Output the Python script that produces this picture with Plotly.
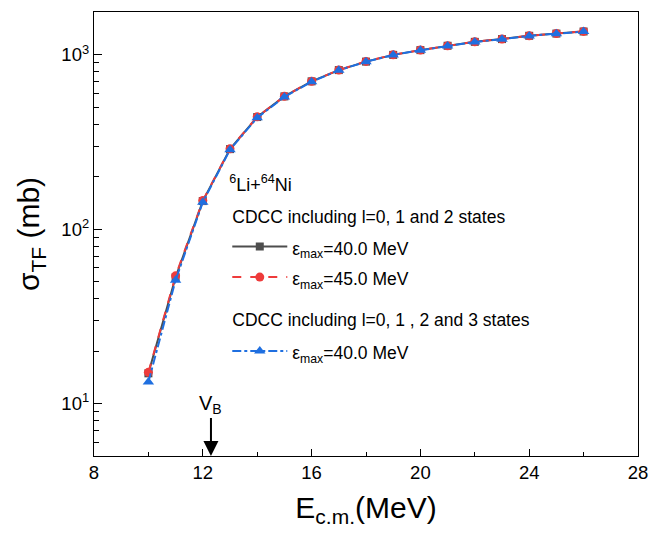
import math
import plotly.graph_objects as go

# ---- data ----
energy = [10, 11, 12, 13, 14, 15, 16, 17, 18, 19, 20, 21, 22, 23, 24, 25, 26]
sigma_l2_e40 = [14.9, 53, 145, 288, 440, 578, 705, 818, 915, 1000, 1065, 1128, 1188, 1232, 1287, 1325, 1362]
sigma_l2_e45 = [15.1, 54, 146, 289, 441, 579, 706, 819, 917, 1002, 1066, 1129, 1189, 1233, 1288, 1327, 1364]
sigma_l3_e40 = [13.3, 51, 143, 286, 436, 574, 702, 816, 914, 999, 1063, 1126, 1186, 1230, 1285, 1323, 1360]
vb_energy = 12.3

x_ticks = [8, 12, 16, 20, 24, 28]
y_ticks = [10, 100, 1000]
y_ticktext = ["10<sup>1</sup>", "10<sup>2</sup>", "10<sup>3</sup>"]
y_minor = [6, 7, 8, 9, 20, 30, 40, 50, 60, 70, 80, 90, 200, 300, 400, 500, 600, 700, 800, 900]

FONT = "Liberation Sans, Arial, sans-serif"
BLACK = "#4d4d4d"
RED = "#ee3b3b"
BLUE = "#1f6fe0"


def sized(t, px=17.5):
    return f'<span style="font-size:{px}px">{t}</span>'


fig = go.Figure()
fig.add_trace(go.Scatter(
    x=energy, y=sigma_l2_e40, mode="lines+markers",
    name=sized("ε<sub>max</sub>=40.0 MeV"),
    legendgroup="g1",
    legendgrouptitle=dict(text=sized("CDCC including l=0, 1 and 2 states"), font=dict(size=25, color="black")),
    line=dict(color=BLACK, width=2), marker=dict(symbol="square", size=8, color=BLACK)))
fig.add_trace(go.Scatter(
    x=energy, y=sigma_l2_e45, mode="lines+markers",
    name=sized("ε<sub>max</sub>=45.0 MeV"),
    legendgroup="g1",
    line=dict(color=RED, width=2, dash="dash"), marker=dict(symbol="circle", size=9, color=RED)))
fig.add_trace(go.Scatter(
    x=energy, y=sigma_l3_e40, mode="lines+markers",
    name=sized("ε<sub>max</sub>=40.0 MeV"),
    legendgroup="g2",
    legendgrouptitle=dict(text=sized("CDCC including l=0, 1 , 2 and 3 states"), font=dict(size=31, color="black")),
    line=dict(color=BLUE, width=2, dash="dashdot"), marker=dict(symbol="triangle-up", size=10, color=BLUE)))

y_lo, y_hi = math.log10(5), 3.246

fig.add_annotation(
    x=vb_energy, y=y_lo, xref="x", yref="y",
    text="V<sub>B</sub>", showarrow=True, ax=0, ay=-52,
    arrowhead=2, arrowsize=1.5, arrowwidth=2, arrowcolor="black",
    font=dict(size=20, color="black", family=FONT))

fig.update_layout(
    width=659, height=538,
    margin=dict(l=94, r=12, t=11, b=82),
    paper_bgcolor="white", plot_bgcolor="white",
    font=dict(family=FONT, size=18, color="black"),
    legend=dict(
        x=0.245, y=0.655, xanchor="left", yanchor="top",
        bgcolor="rgba(0,0,0,0)",
        title=dict(text=sized("<sup>6</sup>Li+<sup>64</sup>Ni", 18), font=dict(size=19.5)),
        font=dict(size=21.3), tracegroupgap=0, itemwidth=55, groupclick="toggleitem"),
    xaxis=dict(
        range=[8, 28], tickvals=x_ticks, ticks="inside", ticklen=7, tickwidth=1.3,
        showline=True, linecolor="black", linewidth=1.3, mirror=True,
        showgrid=False, zeroline=False,
        minor=dict(tickvals=[10, 14, 18, 22, 26], ticks="inside", ticklen=4, tickwidth=1.3, tickcolor="black", showgrid=False),
        tickfont=dict(size=18.5), tickcolor="black",
        title=dict(text="E<sub>c.m.</sub>(MeV)", font=dict(size=30), standoff=14)),
    yaxis=dict(
        type="log", range=[y_lo, y_hi], tickvals=y_ticks, ticktext=y_ticktext,
        ticks="inside", ticklen=8, tickwidth=1.3, tickcolor="black",
        showline=True, linecolor="black", linewidth=1.3, mirror=True,
        showgrid=False, zeroline=False,
        minor=dict(tickvals=y_minor, ticks="inside", ticklen=5, tickwidth=1.3, tickcolor="black", showgrid=False),
        tickfont=dict(size=18.5),
        title=dict(text="σ<sub>TF</sub> (mb)", font=dict(size=30), standoff=12)),
)

fig.write_html("out.html")
